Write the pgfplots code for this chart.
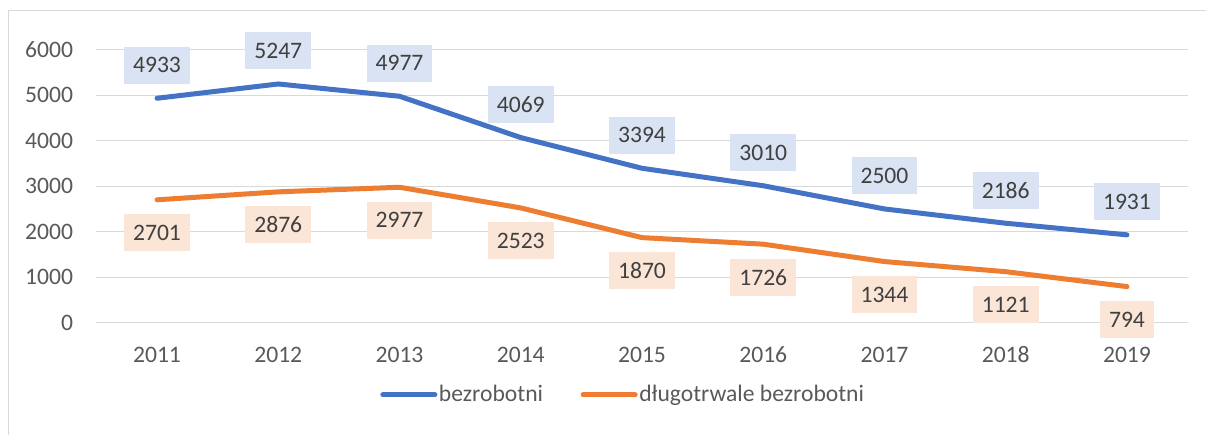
\documentclass[border=0pt]{standalone}
\usepackage{fontspec}
\setmainfont{Carlito}
\usepackage{pgfplots}
\pgfplotsset{compat=1.18}
\definecolor{sblue}{HTML}{4472C4}
\definecolor{sorange}{HTML}{ED7D31}
\definecolor{lblue}{HTML}{DAE3F3}
\definecolor{lorange}{HTML}{FBE5D6}
\definecolor{gridc}{HTML}{D9D9D9}
\definecolor{tickc}{HTML}{595959}
\definecolor{labc}{HTML}{404040}
\begin{document}
\begin{tikzpicture}[font=\fontsize{11.8}{14}\selectfont]
\useasboundingbox (0,0) rectangle (603pt,217.5pt);
\draw[gridc, line width=0.6pt] (4.25pt,0pt) -- (4.25pt,212.25pt) -- (603pt,212.25pt);
\begin{axis}[
  at={(48.2pt,56.15pt)}, anchor=south west,
  scale only axis, width=545.6pt, height=136.5pt,
  xmin=-0.5, xmax=8.5, ymin=0, ymax=6000,
  xtick={0,...,8}, xticklabels={2011,2012,2013,2014,2015,2016,2017,2018,2019},
  ytick={0,1000,...,6000},
  scaled y ticks=false,
  /pgf/number format/assume math mode=true,
  /pgf/number format/1000 sep={},
  axis line style={draw=none}, tick style={draw=none},
  ymajorgrids, grid style={gridc, line width=0.6pt},
  yticklabel style={anchor=east, inner sep=0pt, xshift=-11.5pt, text=tickc},
  xticklabel style={anchor=center, inner sep=0pt, yshift=-16pt, text=tickc},
  clip=false,
  legend columns=2,
  legend style={draw=none, fill=none, at={(0.4826,-0.2648)}, anchor=center,
    /tikz/every even column/.append style={column sep=18pt},
    text=tickc, inner sep=0pt, nodes={inner sep=0.8pt}},
  legend image code/.code={\draw[#1, line width=2.5pt, line cap=round] (1.25pt,0pt) -- (27.25pt,0pt);},
  nodes near coords,
  nodes near coords style={/pgf/number format/fixed, /pgf/number format/precision=0, /pgf/number format/1000 sep={}, /pgf/number format/assume math mode=true, text=labc, anchor=center, inner xsep=4.5pt, inner ysep=0pt, minimum height=18.5pt},
]
\addplot[sblue, line width=2.5pt, line cap=round, line join=round,
  every node near coord/.append style={fill=lblue, yshift=16.5pt}]
  coordinates {(0,4933) (1,5247) (2,4977) (3,4069) (4,3394) (5,3010) (6,2500) (7,2186) (8,1931)};
\addlegendentry{bezrobotni}
\addplot[sorange, line width=2.5pt, line cap=round, line join=round,
  every node near coord/.append style={fill=lorange, yshift=-16.5pt}]
  coordinates {(0,2701) (1,2876) (2,2977) (3,2523) (4,1870) (5,1726) (6,1344) (7,1121) (8,794)};
\addlegendentry{długotrwale bezrobotni}
\end{axis}
\end{tikzpicture}
\end{document}
